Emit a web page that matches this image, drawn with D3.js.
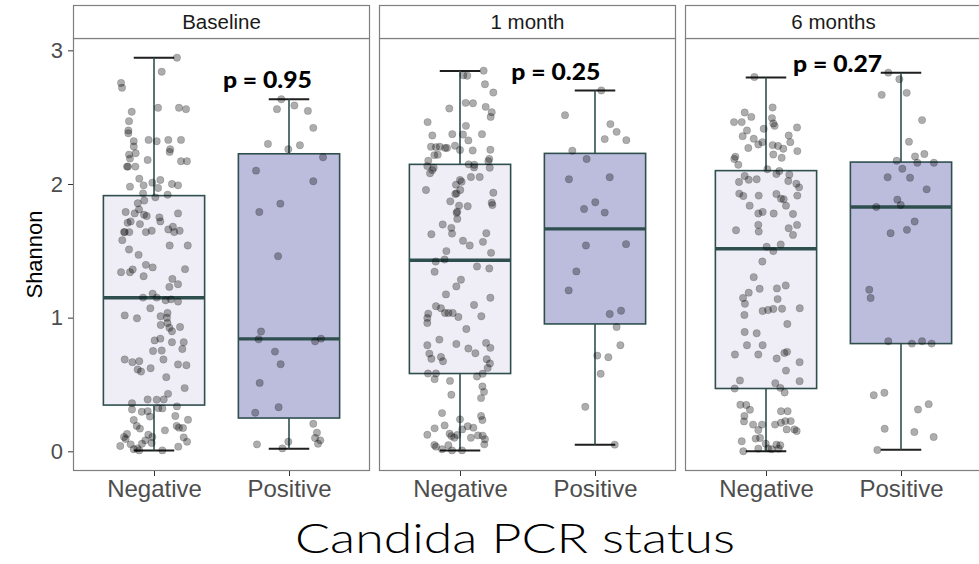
<!DOCTYPE html>
<html>
<head>
<meta charset="utf-8">
<script src="https://cdn.jsdelivr.net/npm/d3@7"></script>
<style>
    body { margin: 0; background: #fff; }
    svg { display: block; }
    .strip-text { font-family: "Liberation Sans", Arial, sans-serif; font-size: 20.5px; fill: #1a1a1a; }
    .y-axis text { font-family: "Liberation Sans", Arial, sans-serif; font-size: 22px; fill: #4d4d4d; }
    .x-axis text { font-family: "Liberation Sans", Arial, sans-serif; font-size: 24px; fill: #4d4d4d; }
    .axis-title { font-family: "Liberation Sans", Arial, sans-serif; font-size: 22px; fill: #000; }
    .x-title { font-family: Lato, "Open Sans", sans-serif; font-weight: 300; font-size: 42px; fill: #000; }
    .p-label { font-family: Lato, "DejaVu Sans", sans-serif; font-weight: 900; font-size: 23px; fill: #000; }
</style>
</head>
<body>
<div id="chart"></div>
<script>
// ---------- data ----------
var panels = ["Baseline", "1 month", "6 months"];
var groups = ["Negative", "Positive"];

// box statistics per panel: [Negative, Positive]
var whiskerLow  = [[0.007, 0.020], [0.007, 0.050], [0.000, 0.012]];
var lowerQuart  = [[0.346, 0.249], [0.582, 0.953], [0.470, 0.806]];
var medians     = [[1.149, 0.841], [1.430, 1.664], [1.515, 1.828]];
var upperQuart  = [[1.913, 2.226], [2.147, 2.229], [2.100, 2.164]];
var whiskerHigh = [[2.945, 2.634], [2.846, 2.700], [2.796, 2.833]];

// p value annotations (x in category units, y in Shannon units)
var pLabels = ["p = 0.95", "p = 0.25", "p = 0.27"];
var pLabelX = [1.84, 1.71, 1.53];
var pLabelY = [2.72, 2.78, 2.84];

// jittered observations: [jitter (category units), Shannon]
var baselineNeg = [
    [0.17, 2.945], [0.057, 2.84], [-0.244, 2.756], [-0.237, 2.72], [-0.165, 2.54], [0.03, 2.57], [0.185, 2.57], [0.237, 2.56],
    [-0.185, 2.47], [-0.19, 2.40], [-0.19, 2.38], [-0.15, 2.32], [-0.15, 2.28], [-0.04, 2.33], [0.02, 2.32], [0.106, 2.33],
    [0.2, 2.33], [0.12, 2.26], [0.116, 2.24], [-0.185, 2.22], [-0.136, 2.23], [-0.178, 2.19], [-0.047, 2.18], [0.2, 2.17],
    [0.244, 2.17], [-0.2, 2.13], [-0.193, 2.13], [-0.138, 2.13], [-0.109, 2.04], [-0.178, 1.98], [-0.077, 1.99], [-0.012, 2.01],
    [0.047, 2.03], [0.03, 1.97], [0.133, 2.0], [0.178, 1.99], [-0.081, 1.93], [0.101, 1.92], [0.01, 1.90], [-0.072, 1.876],
    [-0.12, 1.856], [-0.21, 1.79], [-0.143, 1.78], [-0.111, 1.81], [-0.074, 1.77], [-0.054, 1.76], [0.04, 1.75], [0.047, 1.72],
    [0.178, 1.78], [-0.195, 1.71], [-0.173, 1.72], [-0.104, 1.70], [-0.222, 1.64], [-0.217, 1.64], [-0.183, 1.64], [-0.06, 1.64],
    [-0.017, 1.65], [0.106, 1.66], [0.14, 1.68], [0.15, 1.64], [0.19, 1.65], [-0.235, 1.58], [0.116, 1.54], [0.25, 1.54],
    [-0.185, 1.51], [-0.114, 1.47], [-0.06, 1.395], [-0.01, 1.376], [-0.244, 1.34], [-0.178, 1.34], [-0.158, 1.36], [0.23, 1.363],
    [-0.077, 1.31], [0.136, 1.29], [0.178, 1.25], [0.114, 1.23], [-0.01, 1.18], [-0.081, 1.15], [0.02, 1.15], [0.086, 1.13],
    [0.126, 1.137], [0.178, 1.12], [-0.027, 1.07], [-0.217, 1.017], [-0.126, 0.995], [0.049, 1.01], [0.10, 1.035], [0.096, 1.0],
    [0.05, 0.945], [0.1, 0.96], [0.114, 0.925], [0.133, 0.898], [0.193, 0.93], [0.005, 0.83], [0.047, 0.843], [0.133, 0.816],
    [0.22, 0.816], [-0.007, 0.75], [0.057, 0.754], [0.21, 0.766], [-0.217, 0.687], [-0.16, 0.667], [-0.109, 0.674], [0.07, 0.687],
    [0.178, 0.65], [0.24, 0.644], [-0.121, 0.612], [-0.096, 0.597], [-0.025, 0.622], [0.091, 0.555], [0.227, 0.473], [0.104, 0.43],
    [-0.163, 0.36], [-0.047, 0.388], [0.02, 0.386], [0.072, 0.388], [-0.163, 0.313], [-0.091, 0.296], [-0.047, 0.30], [0.032, 0.323],
    [0.062, 0.321], [0.17, 0.336], [-0.03, 0.26], [0.158, 0.264], [0.252, 0.236], [-0.15, 0.234], [-0.128, 0.19], [-0.104, 0.17],
    [0.081, 0.157], [0.168, 0.19], [0.185, 0.177], [0.215, 0.174], [-0.2, 0.13], [-0.21, 0.092], [-0.222, 0.107], [-0.042, 0.124],
    [-0.012, 0.107], [0.22, 0.104], [0.245, 0.072], [-0.25, 0.04], [-0.173, 0.052], [-0.123, 0.022], [-0.064, 0.082], [-0.089, 0.057],
    [-0.017, 0.062], [-0.109, 0.007], [0.062, 0.007], [0.18, 0.035], [-0.15, 0.015]
];
var baselinePos = [
    [-0.057, 2.634], [-0.089, 2.56], [0.04, 2.587], [0.14, 2.547], [0.18, 2.42], [-0.156, 2.30], [-0.005, 2.26], [0.081, 2.29],
    [0.252, 2.20], [-0.244, 2.10], [0.18, 2.02], [-0.064, 1.853], [-0.22, 1.79], [-0.081, 1.46], [-0.207, 0.896], [-0.225, 0.838],
    [0.193, 0.823], [0.237, 0.843], [-0.104, 0.746], [-0.062, 0.652], [-0.217, 0.512], [-0.077, 0.33], [-0.25, 0.289], [0.18, 0.206],
    [0.207, 0.139], [0.193, 0.10], [0.232, 0.082], [0.215, 0.057], [-0.237, 0.052], [-0.005, 0.072], [-0.049, 0.022]
];
var month1Neg = [
    [0.175, 2.848], [0.025, 2.813], [0.054, 2.81], [0.185, 2.746], [0.247, 2.684], [-0.079, 2.565], [0.042, 2.607], [0.096, 2.604],
    [0.19, 2.577], [0.235, 2.537], [0.227, 2.502], [-0.24, 2.463], [0.044, 2.435], [-0.205, 2.363], [-0.057, 2.373], [0.022, 2.37],
    [0.163, 2.373], [-0.215, 2.279], [-0.178, 2.276], [-0.15, 2.279], [-0.11, 2.27], [-0.096, 2.27], [-0.037, 2.286], [0.062, 2.326],
    [0, 2.254], [0.094, 2.251], [0.225, 2.256], [-0.19, 2.216], [-0.165, 2.219], [-0.235, 2.174], [0.217, 2.187], [0.21, 2.17],
    [-0.242, 2.134], [-0.195, 2.122], [-0.205, 2.104], [-0.222, 2.08], [0.064, 2.147], [0.106, 2.144], [0.104, 2.124], [0.22, 2.122],
    [0.081, 2.052], [0.146, 2.052], [0, 2.03], [0.012, 2.017], [-0.03, 1.995], [-0.252, 1.955], [0.002, 1.955], [-0.025, 1.93],
    [-0.035, 1.925], [0.247, 1.935], [0.235, 1.86], [0.24, 1.843], [-0.072, 1.87], [-0.007, 1.838], [0.057, 1.833], [-0.02, 1.793],
    [-0.025, 1.784], [-0.02, 1.739], [-0.128, 1.697], [-0.064, 1.672], [-0.212, 1.624], [-0.059, 1.629], [0.195, 1.632], [0.022, 1.575],
    [0.072, 1.54], [0.170, 1.567], [-0.101, 1.498], [0.23, 1.485], [-0.18, 1.42], [-0.114, 1.435], [0.126, 1.383], [0.217, 1.368],
    [-0.188, 1.343], [0.007, 1.284], [-0.027, 1.234], [-0.104, 1.174], [0.225, 1.149], [-0.178, 1.085], [-0.141, 1.07], [0.104, 1.095],
    [-0.111, 1.035], [-0.086, 1.035], [-0.054, 1.035], [-0.012, 1.005], [0.158, 1.01], [-0.235, 1.03], [-0.242, 0.998], [-0.242, 0.96],
    [0.047, 0.915], [-0.153, 0.836], [-0.242, 0.794], [-0.027, 0.803], [0.062, 0.769], [0.193, 0.811], [-0.227, 0.731], [-0.141, 0.706],
    [-0.212, 0.692], [-0.126, 0.674], [0.114, 0.734], [0.225, 0.774], [0.198, 0.689], [0.222, 0.657], [0.205, 0.624], [-0.237, 0.582],
    [-0.178, 0.582], [-0.188, 0.54], [-0.074, 0.527], [0.126, 0.56], [0.168, 0.58], [0.166, 0.485], [0.178, 0.445], [-0.064, 0.423],
    [0.156, 0.398], [-0.133, 0.286], [0.156, 0.264], [0.166, 0.234], [0, 0.239], [-0.188, 0.172], [-0.114, 0.194], [0.017, 0.164],
    [0.057, 0.187], [0.099, 0.177], [-0.242, 0.124], [-0.077, 0.132], [-0.064, 0.114], [-0.02, 0.122], [0.081, 0.102], [0.133, 0.119],
    [0.168, 0.117], [0.185, 0.09], [0.180, 0.052], [-0.19, 0.047], [-0.178, 0.035], [-0.086, 0.045], [-0.059, 0.007], [0.015, 0.007],
    [-0.133, 0.015], [-0.042, 0.102]
];
var month1Pos = [
    [0.047, 2.70], [-0.222, 2.515], [0.114, 2.448], [0.16, 2.39], [0.072, 2.336], [0.232, 2.328], [-0.168, 2.249], [-0.062, 2.187],
    [-0.193, 2.035], [0.109, 2.05], [0.002, 1.863], [-0.081, 1.813], [0.072, 1.786], [-0.067, 1.54], [0.23, 1.55], [-0.138, 1.346],
    [-0.195, 1.204], [0.109, 1.027], [0.193, 1.052], [0.16, 0.93], [0.188, 0.794], [0.017, 0.716], [0.099, 0.704], [0.042, 0.58],
    [-0.072, 0.333], [0.146, 0.05]
];
var month6Neg = [
    [-0.086, 2.80], [-0.158, 2.535], [-0.109, 2.502], [0.049, 2.572], [0.044, 2.493], [-0.237, 2.463], [-0.180, 2.463], [0.054, 2.453],
    [0.064, 2.435], [-0.017, 2.413], [0.23, 2.423], [-0.141, 2.4], [-0.173, 2.358], [-0.091, 2.338], [0.168, 2.363], [-0.057, 2.296],
    [-0.027, 2.313], [0.049, 2.291], [0.089, 2.284], [0.18, 2.313], [-0.131, 2.269], [0.128, 2.264], [0.232, 2.246], [0.054, 2.221],
    [0.116, 2.196], [-0.227, 2.204], [-0.235, 2.187], [-0.205, 2.144], [0.01, 2.11], [0.099, 2.097], [0.077, 2.075], [-0.158, 2.06],
    [-0.128, 2.032], [-0.069, 2.035], [0.173, 2.07], [0.225, 2.002], [0.245, 1.975], [-0.2, 2.015], [0.165, 2.022], [-0.198, 1.928],
    [-0.168, 1.91], [-0.054, 1.913], [0.077, 1.925], [0.111, 1.89], [0.131, 1.886], [0.232, 1.913], [-0.121, 1.838], [0.148, 1.838],
    [-0.057, 1.779], [-0.025, 1.791], [0.057, 1.779], [0.2, 1.776], [-0.057, 1.694], [-0.054, 1.644], [-0.222, 1.654], [0.168, 1.669],
    [0.23, 1.694], [0.2, 1.619], [0.005, 1.53], [0.109, 1.547], [0.054, 1.498], [-0.027, 1.42], [-0.091, 1.303], [-0.128, 1.187],
    [-0.047, 1.216], [0.081, 1.219], [0.146, 1.241], [-0.17, 1.147], [-0.156, 1.104], [0.086, 1.139], [-0.025, 1.05], [0.015, 1.057],
    [0.054, 1.065], [0.119, 1.067], [0.25, 1.07], [-0.16, 1.02], [0.158, 0.953], [-0.158, 0.893], [-0.069, 0.883], [-0.141, 0.794],
    [-0.025, 0.794], [-0.23, 0.724], [-0.057, 0.724], [0.136, 0.736], [0.156, 0.744], [0.079, 0.694], [0.249, 0.667], [0.148, 0.604],
    [-0.193, 0.53], [0.249, 0.525], [-0.232, 0.47], [0.069, 0.51], [0.106, 0.475], [0.138, 0.44], [-0.19, 0.348], [-0.146, 0.346],
    [-0.119, 0.311], [-0.16, 0.264], [-0.163, 0.224], [-0.096, 0.2], [-0.03, 0.2], [0.111, 0.3], [0.16, 0.3], [0.067, 0.2],
    [0.111, 0.214], [0.143, 0.226], [0.183, 0.226], [0.153, 0.164], [0.21, 0.164], [0.227, 0.152], [-0.057, 0.159], [-0.077, 0.095],
    [-0.044, 0.1], [-0.18, 0.075], [-0.002, 0.057], [0.077, 0.05], [0.106, 0.045], [0.094, 0.02], [0.042, 0.015], [0.015, 0.022],
    [-0.057, 0.02], [-0.168, 0.0]
];
var month6Pos = [
    [-0.094, 2.833], [-0.012, 2.784], [-0.143, 2.667], [0.042, 2.682], [0.156, 2.478], [0.059, 2.316], [0.104, 2.206], [0.173, 2.224],
    [-0.032, 2.174], [0.121, 2.159], [0.244, 2.159], [0.01, 2.114], [-0.099, 2.05], [0.067, 2.047], [0.19, 1.96], [-0.027, 1.883],
    [-0.002, 1.843], [-0.183, 1.828], [0.101, 1.719], [0.044, 1.657], [-0.077, 1.632], [-0.235, 1.209], [-0.225, 1.147], [-0.094, 0.823],
    [0.081, 0.806], [0.156, 0.823], [0.227, 0.806], [-0.202, 0.42], [-0.123, 0.438], [0.126, 0.313], [0.205, 0.353], [-0.121, 0.169],
    [0.099, 0.144], [0.242, 0.107], [-0.175, 0.01]
];
var observations = [[baselineNeg, baselinePos], [month1Neg, month1Pos], [month6Neg, month6Pos]];

var boxFill = ["#efedf5", "#bcbddc"];

// ---------- layout ----------
var width = 979, height = 564;
var panelLeft = 73, panelWidth = 297, panelGap = 9;
var stripTop = 5, plotTop = 38, plotBottom = 471;

var lo = d3.min(whiskerLow, function (r) { return d3.min(r); });
var hi = d3.max(whiskerHigh, function (r) { return d3.max(r); });
var pad = (hi - lo) * 0.05;

var y = d3.scaleLinear()
    .domain([lo - pad, hi + pad])
    .range([plotBottom, plotTop]);

var x = d3.scalePoint()
    .domain(groups)
    .range([0, panelWidth])
    .padding(0.6);
var step = x.step();

var svg = d3.select("#chart").append("svg")
    .attr("width", width)
    .attr("height", height);

panels.forEach(function (name, p) {
    var g = svg.append("g")
        .attr("transform", "translate(" + (panelLeft + p * (panelWidth + panelGap)) + ",0)");

    g.append("rect")
        .attr("x", 0).attr("y", plotTop)
        .attr("width", panelWidth).attr("height", plotBottom - plotTop)
        .attr("fill", "#fff");

    var boxes = groups.map(function (grp, i) {
        return {
            grp: grp, fill: boxFill[i],
            ymin: whiskerLow[p][i], lower: lowerQuart[p][i], middle: medians[p][i],
            upper: upperQuart[p][i], ymax: whiskerHigh[p][i]
        };
    });

    // errorbar caps + whiskers
    var capW = step * 0.3;
    boxes.forEach(function (b) {
        var cx = x(b.grp);
        [b.ymin, b.ymax].forEach(function (v) {
            g.append("line")
                .attr("x1", cx - capW / 2).attr("x2", cx + capW / 2)
                .attr("y1", y(v)).attr("y2", y(v))
                .attr("stroke", "#1f1f1f").attr("stroke-width", 2);
        });
        g.append("line")
            .attr("x1", cx).attr("x2", cx)
            .attr("y1", y(b.ymax)).attr("y2", y(b.upper))
            .attr("stroke", "#2f4f4f").attr("stroke-width", 1.6);
        g.append("line")
            .attr("x1", cx).attr("x2", cx)
            .attr("y1", y(b.lower)).attr("y2", y(b.ymin))
            .attr("stroke", "#2f4f4f").attr("stroke-width", 1.6);
    });

    var boxW = step * 0.75;
    g.selectAll(".box")
        .data(boxes)
        .enter().append("rect")
        .attr("class", "box")
        .attr("x", function (d) { return x(d.grp) - boxW / 2; })
        .attr("y", function (d) { return y(d.upper); })
        .attr("width", boxW)
        .attr("height", function (d) { return y(d.lower) - y(d.upper); })
        .attr("fill", function (d) { return d.fill; })
        .attr("stroke", "#2f4f4f")
        .attr("stroke-width", 1.6);

    g.selectAll(".median")
        .data(boxes)
        .enter().append("line")
        .attr("class", "median")
        .attr("x1", function (d) { return x(d.grp) - boxW / 2; })
        .attr("x2", function (d) { return x(d.grp) + boxW / 2; })
        .attr("y1", function (d) { return y(d.middle); })
        .attr("y2", function (d) { return y(d.middle); })
        .attr("stroke", "#2f4f4f")
        .attr("stroke-width", 3.4);

    // jittered points
    groups.forEach(function (grp, i) {
        g.selectAll(".pt-" + i)
            .data(observations[p][i])
            .enter().append("circle")
            .attr("class", "pt-" + i)
            .attr("cx", function (d) { return x(grp) + d[0] * step; })
            .attr("cy", function (d) { return y(d[1]); })
            .attr("r", 3.7)
            .attr("fill", "rgba(0,0,0,0.32)")
            .attr("stroke", "rgba(0,0,0,0.18)")
            .attr("stroke-width", 0.8);
    });

    // p value
    g.append("text")
        .attr("class", "p-label")
        .attr("x", (pLabelX[p] - 0.4) * step)
        .attr("y", y(pLabelY[p]))
        .attr("text-anchor", "middle")
        .attr("textLength", 89)
        .attr("lengthAdjust", "spacingAndGlyphs")
        .text(pLabels[p]);

    // panel border
    g.append("rect")
        .attr("x", 0.5).attr("y", plotTop + 0.5)
        .attr("width", panelWidth - 1).attr("height", plotBottom - plotTop - 1)
        .attr("fill", "none")
        .attr("stroke", "#7f7f7f")
        .attr("stroke-width", 1.2);

    // strip
    g.append("rect")
        .attr("x", 0.5).attr("y", stripTop + 0.5)
        .attr("width", panelWidth - 1).attr("height", plotTop - stripTop)
        .attr("fill", "#fff")
        .attr("stroke", "#7f7f7f")
        .attr("stroke-width", 1.2);
    g.append("text")
        .attr("class", "strip-text")
        .attr("x", panelWidth / 2)
        .attr("y", 29)
        .attr("text-anchor", "middle")
        .text(name);

    // x axis
    var xAxis = g.append("g")
        .attr("class", "x-axis")
        .attr("transform", "translate(0," + plotBottom + ")")
        .call(d3.axisBottom(x).tickSize(5).tickPadding(4));
    xAxis.select(".domain").remove();
    xAxis.selectAll(".tick line").attr("stroke", "#333");

    if (p === 0) {
        var yAxis = g.append("g")
            .attr("class", "y-axis")
            .call(d3.axisLeft(y).tickValues([0, 1, 2, 3]).tickFormat(d3.format("d")).tickSize(5).tickPadding(5));
        yAxis.select(".domain").remove();
        yAxis.selectAll(".tick line").attr("stroke", "#333");
    }
});

// axis titles
svg.append("text")
    .attr("class", "axis-title")
    .attr("transform", "translate(42," + ((plotTop + plotBottom) / 2) + ") rotate(-90)")
    .attr("text-anchor", "middle")
    .text("Shannon");

svg.append("text")
    .attr("class", "x-title")
    .attr("x", 515)
    .attr("y", 553)
    .attr("text-anchor", "middle")
    .attr("textLength", 440)
    .attr("lengthAdjust", "spacingAndGlyphs")
    .text("Candida PCR status");
</script>
</body>
</html>
